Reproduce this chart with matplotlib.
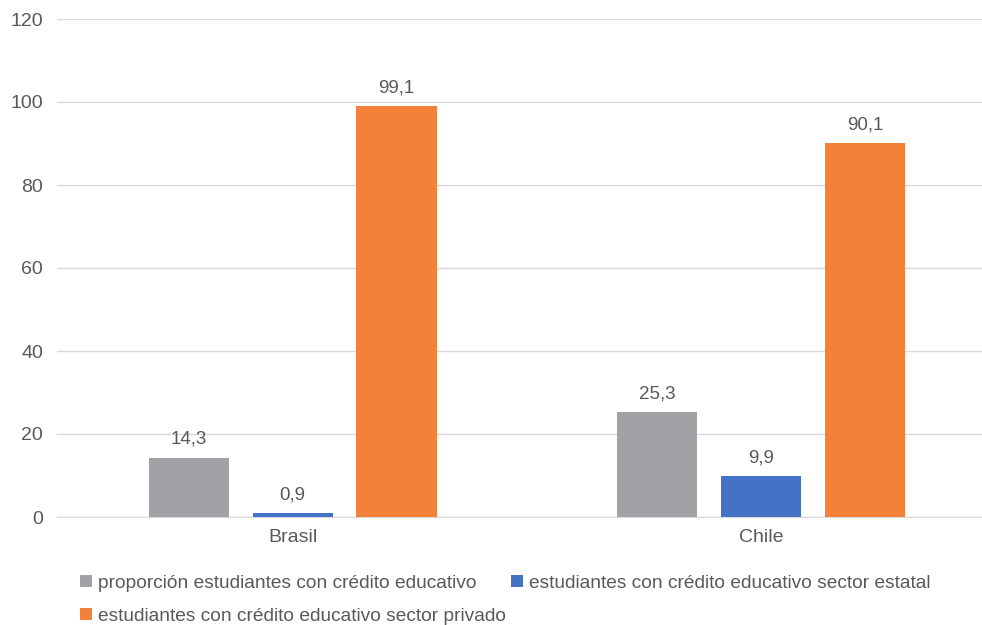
import matplotlib.pyplot as plt
import numpy as np

# Student loan shares by country and sector (%)
paises = ['Brasil', 'Chile']
proporcion = [14.3, 25.3]
estatal = [0.9, 9.9]
privado = [99.1, 90.1]
series_labels = ['proporción estudiantes con crédito educativo',
                 'estudiantes con crédito educativo sector estatal',
                 'estudiantes con crédito educativo sector privado']
colores = ['#A0A2A5', '#4472C4', '#F4813A']

plt.rcParams['font.family'] = ['Liberation Sans', 'DejaVu Sans']
txt = '#595959'

fig = plt.figure(figsize=(9.82, 6.25), dpi=100)
ax = fig.add_axes([0.058, 0.1728, 0.942, 0.7968])

x = np.arange(len(paises))
w = 0.171
off = 0.222
handles = []
for i, (vals, lab, col) in enumerate(zip([proporcion, estatal, privado], series_labels, colores)):
  bars = ax.bar(x + (i - 1) * off, vals, w, color=col, label=lab, zorder=3)
  handles.append(bars)
  for b, v in zip(bars, vals):
    ax.annotate(('%.1f' % v).replace('.', ','), (b.get_x() + b.get_width() / 2, v),
                xytext=(0, 7), textcoords='offset points', ha='center', va='bottom',
                fontsize=13.5, color=txt)

ax.set_ylim(0, 120)
ax.set_yticks(np.arange(0, 121, 20))
ax.set_xlim(-0.503, 1.472)
ax.set_xticks(x)
ax.set_xticklabels(paises)
ax.grid(axis='y', color='#D9D9D9', linewidth=1, zorder=0)
for s in ['top', 'right', 'left']:
  ax.spines[s].set_visible(False)
ax.spines['bottom'].set_color('#D9D9D9')
ax.tick_params(axis='both', length=0, labelsize=14, colors=txt)
ax.tick_params(axis='y', pad=10)
ax.tick_params(axis='x', pad=9)

# legend fills column-first: gray/orange on the left, blue on the right
order = [0, 2, 1]
fig.legend([handles[k] for k in order], [series_labels[k] for k in order],
           loc='upper left', bbox_to_anchor=(0.074, 0.093), ncol=2, frameon=False,
           fontsize=13.8, handlelength=0.6, handleheight=0.6, handletextpad=0.3,
           columnspacing=0.3, labelspacing=0.85, labelcolor=txt, borderaxespad=0)

fig.savefig('out.png', dpi=100)
